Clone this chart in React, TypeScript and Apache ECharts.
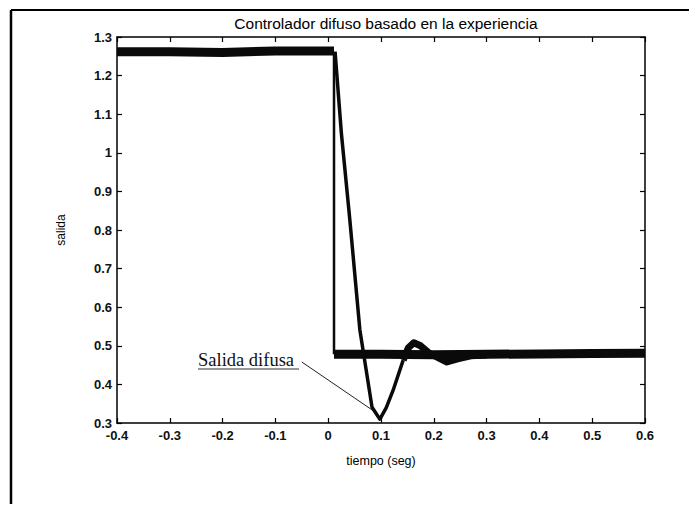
import React, { useEffect, useRef } from "react";
import * as echarts from "echarts";

// ---- data ----
const xTicks = [-0.4, -0.3, -0.2, -0.1, 0, 0.1, 0.2, 0.3, 0.4, 0.5, 0.6];
const yTicks = [0.3, 0.4, 0.5, 0.6, 0.7, 0.8, 0.9, 1, 1.1, 1.2, 1.3];

// noisy plateaus (drawn as thick bands)
const highPlateau: [number, number][] = [
  [-0.4, 1.262],
  [-0.3, 1.262],
  [-0.2, 1.26],
  [-0.1, 1.264],
  [0.011, 1.264],
];
const lowPlateau: [number, number][] = [
  [0.011, 0.478],
  [0.1, 0.478],
  [0.2, 0.477],
  [0.3, 0.478],
  [0.4, 0.479],
  [0.5, 0.48],
  [0.6, 0.481],
];
// step of the measured output
const stepDrop: [number, number][] = [
  [0.011, 1.262],
  [0.011, 0.478],
];
// fuzzy controller response
const fuzzyRamp: [number, number][] = [
  [0.013, 1.262],
  [0.025, 1.05],
  [0.041, 0.826],
  [0.06, 0.541],
  [0.083, 0.341],
  [0.092, 0.322],
  [0.098, 0.31],
  [0.11, 0.34],
  [0.123, 0.385],
  [0.142, 0.463],
];
const fuzzySettle: [number, number][] = [
  [0.142, 0.463],
  [0.152, 0.495],
  [0.162, 0.508],
  [0.175, 0.5],
  [0.19, 0.482],
  [0.21, 0.468],
  [0.225, 0.458],
  [0.245, 0.466],
  [0.27, 0.474],
  [0.3, 0.476],
];
const pointerLine: [number, number][] = [
  [-0.05, 0.458],
  [0.083, 0.334],
];

const fmt = (v: number) => String(Math.round(v * 10) / 10);

export default function App() {
  const ref = useRef<HTMLDivElement>(null);
  useEffect(() => {
    if (!ref.current) return;
    const chart = echarts.init(ref.current, null, { renderer: "svg" });
    const font = "'Liberation Sans', Arial, sans-serif";
    const axisLine = { show: true, onZero: false, lineStyle: { color: "#000", width: 1.5 } };
    const tick = { show: true, inside: true, length: 5, lineStyle: { color: "#000", width: 1.2 } };
    const black = "#0a0a0a";
    const tickLabel = { fontFamily: font, fontSize: 13, fontWeight: "bold", color: "#111", formatter: fmt };
    chart.setOption({
      animation: false,
      backgroundColor: "#fff",
      title: {
        text: "Controlador difuso basado en la experiencia",
        left: 381,
        textAlign: "center",
        top: 10,
        textStyle: { fontFamily: font, fontSize: 15.5, fontWeight: "normal", color: "#000" },
      },
      grid: { left: 117, right: 52, top: 37, bottom: 89 },
      xAxis: [
        {
          type: "value",
          min: -0.4,
          max: 0.6,
          interval: 0.1,
          name: "tiempo (seg)",
          nameLocation: "middle",
          nameGap: 31,
          nameTextStyle: { fontFamily: font, fontSize: 12.5, color: "#000" },
          axisLine,
          axisTick: tick,
          splitLine: { show: false },
          axisLabel: { ...tickLabel, margin: 6 },
        },
        {
          type: "value",
          position: "top",
          min: -0.4,
          max: 0.6,
          interval: 0.1,
          axisLine,
          axisTick: tick,
          splitLine: { show: false },
          axisLabel: { show: false },
        },
      ],
      yAxis: [
        {
          type: "value",
          min: 0.3,
          max: 1.3,
          interval: 0.1,
          name: "salida",
          nameLocation: "middle",
          nameGap: 50,
          nameTextStyle: { fontFamily: font, fontSize: 12, color: "#000" },
          axisLine,
          axisTick: tick,
          splitLine: { show: false },
          axisLabel: { ...tickLabel, margin: 5 },
        },
        {
          type: "value",
          position: "right",
          min: 0.3,
          max: 1.3,
          interval: 0.1,
          axisLine,
          axisTick: tick,
          splitLine: { show: false },
          axisLabel: { show: false },
        },
      ],
      series: [
        {
          name: "alto",
          type: "line",
          data: highPlateau,
          symbol: "none",
          lineStyle: { color: black, width: 9 },
        },
        {
          name: "bajo",
          type: "line",
          data: lowPlateau,
          symbol: "none",
          lineStyle: { color: black, width: 9 },
        },
        {
          name: "escalon",
          type: "line",
          data: stepDrop,
          symbol: "none",
          lineStyle: { color: black, width: 2.5 },
        },
        {
          name: "difusa",
          type: "line",
          data: fuzzyRamp,
          symbol: "none",
          lineStyle: { color: black, width: 3.5, join: "round" },
        },
        {
          name: "difusa2",
          type: "line",
          data: fuzzySettle,
          symbol: "none",
          lineStyle: { color: black, width: 7, join: "round" },
        },
        {
          name: "pointer",
          type: "line",
          data: pointerLine,
          symbol: "none",
          lineStyle: { color: "#222", width: 1 },
        },
      ],
      graphic: [
        { type: "line", shape: { x1: 11, y1: 10, x2: 697, y2: 10 }, style: { stroke: "#000", lineWidth: 2 } },
        { type: "line", shape: { x1: 11, y1: 10, x2: 11, y2: 512 }, style: { stroke: "#000", lineWidth: 2.5 } },
        {
          type: "line",
          shape: { x1: 11, y1: 507, x2: 697, y2: 507 },
          style: { stroke: "#999", lineWidth: 1, lineDash: [3, 6] },
        },
        {
          type: "text",
          left: 198,
          top: 350,
          style: {
            text: "Salida difusa",
            font: "18.5px 'Liberation Serif', 'Times New Roman', serif",
            fill: "#111",
          },
        },
        { type: "line", shape: { x1: 198, y1: 369, x2: 299, y2: 369 }, style: { stroke: "#333", lineWidth: 1.2 } },
      ],
    });
    return () => chart.dispose();
  }, []);
  return <div ref={ref} style={{ width: 697, height: 512, margin: -8 }} />;
}
